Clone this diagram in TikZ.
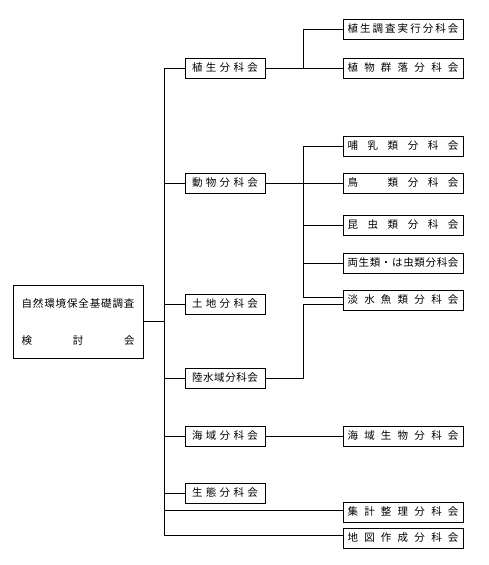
\documentclass[tikz,border=0pt]{standalone}
\usepackage{fontspec}
\setmainfont{Noto Sans CJK JP}
\newcommand{\spr}[2]{\makebox[#1][s]{#2}}
\begin{document}
\begin{tikzpicture}[x=1pt,y=-1pt,
  box/.style={draw, line width=0.9pt, inner sep=0pt, minimum height=20pt, font=\fontsize{10.5}{12}\selectfont},
  lvtwo/.style={box, minimum width=80pt},
  lvthree/.style={box, minimum width=120pt},
  link/.style={line width=0.7pt}]
\useasboundingbox (0,0) rectangle (488,565);
% main box
\node[box, minimum width=130pt, minimum height=73pt, align=center] (main) at (78,321.5)
  {\spr{113pt}{自\hfill 然\hfill 環\hfill 境\hfill 保\hfill 全\hfill 基\hfill 礎\hfill 調\hfill 査}\\[25pt]
   \spr{113pt}{検\hfill 討\hfill 会}};
% level 2
\node[lvtwo] (veg) at (225,68)  {\spr{66pt}{植\hfill 生\hfill 分\hfill 科\hfill 会}};
\node[lvtwo] (ani) at (225,183) {\spr{66pt}{動\hfill 物\hfill 分\hfill 科\hfill 会}};
\node[lvtwo] (soil) at (225,304) {\spr{66pt}{土\hfill 地\hfill 分\hfill 科\hfill 会}};
\node[lvtwo] (lim) at (225,378) {\spr{66pt}{陸\hfill 水\hfill 域\hfill 分\hfill 科\hfill 会}};
\node[lvtwo] (sea) at (225,436) {\spr{66pt}{海\hfill 域\hfill 分\hfill 科\hfill 会}};
\node[lvtwo] (eco) at (225,493) {\spr{66pt}{生\hfill 態\hfill 分\hfill 科\hfill 会}};
% level 3
\node[lvthree] (a1) at (403,29)  {\spr{111pt}{植\hfill 生\hfill 調\hfill 査\hfill 実\hfill 行\hfill 分\hfill 科\hfill 会}};
\node[lvthree] (a2) at (403,68)  {\spr{111pt}{植\hfill 物\hfill 群\hfill 落\hfill 分\hfill 科\hfill 会}};
\node[lvthree] (b1) at (403,146) {\spr{111pt}{哺\hfill 乳\hfill 類\hfill 分\hfill 科\hfill 会}};
\node[lvthree] (b2) at (403,183) {\spr{111pt}{鳥\hfill\phantom{乳}\hfill 類\hfill 分\hfill 科\hfill 会}};
\node[lvthree] (b3) at (403,225) {\spr{111pt}{昆\hfill 虫\hfill 類\hfill 分\hfill 科\hfill 会}};
\node[lvthree] (b4) at (403,263) {\spr{111pt}{両\hfill 生\hfill 類\hfill ・\hfill は\hfill 虫\hfill 類\hfill 分\hfill 科\hfill 会}};
\node[lvthree] (b5) at (403,300) {\spr{111pt}{淡\hfill 水\hfill 魚\hfill 類\hfill 分\hfill 科\hfill 会}};
\node[lvthree] (c1) at (403,436) {\spr{111pt}{海\hfill 域\hfill 生\hfill 物\hfill 分\hfill 科\hfill 会}};
\node[lvthree] (d1) at (403,512) {\spr{111pt}{集\hfill 計\hfill 整\hfill 理\hfill 分\hfill 科\hfill 会}};
\node[lvthree] (d2) at (403,538) {\spr{111pt}{地\hfill 図\hfill 作\hfill 成\hfill 分\hfill 科\hfill 会}};
% helper coordinates
\coordinate (tx) at (164,0);
\coordinate (jx) at (303,0);
\coordinate (b5u) at ([yshift=3pt]b5.west);
\coordinate (b5d) at ([yshift=-4pt]b5.west);
\coordinate (d1w) at ([yshift=2pt]d1.west);
\coordinate (d2w) at ([yshift=3pt]d2.west);
% trunk
\draw[link] (main.east) -- (main.east -| tx);
\draw[link] (veg.west) -- (veg.west -| tx) -- (tx |- d2w) -- (d2w);
\draw[link] (tx |- ani.west) -- (ani.west);
\draw[link] (tx |- soil.west) -- (soil.west);
\draw[link] (tx |- lim.west) -- (lim.west);
\draw[link] (tx |- sea.west) -- (sea.west);
\draw[link] (tx |- eco.west) -- (eco.west);
\draw[link] (tx |- d1w) -- (d1w);
% vegetation
\draw[link] (veg.east) -- (veg.east -| jx);
\draw[link] (a1.west) -- (a1.west -| jx) -- (jx |- a2.west) -- (a2.west);
% animals
\draw[link] (ani.east) -- (ani.east -| jx);
\draw[link] (b1.west) -- (b1.west -| jx) -- (jx |- b5u) -- (b5u);
\draw[link] (jx |- b2.west) -- (b2.west);
\draw[link] (jx |- b3.west) -- (b3.west);
\draw[link] (jx |- b4.west) -- (b4.west);
% inland water
\draw[link] (lim.east) -- (lim.east -| jx) -- (jx |- b5d) -- (b5d);
% sea
\draw[link] (sea.east) -- (c1.west);
\end{tikzpicture}
\end{document}
